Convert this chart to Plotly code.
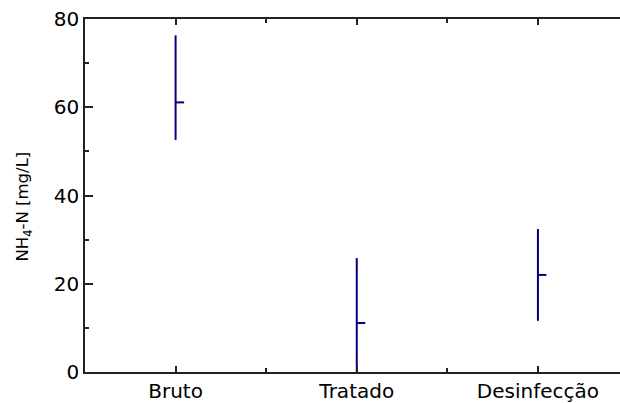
import plotly.graph_objects as go

categories = ["Bruto", "Tratado", "Desinfecção"]
high = [76.3, 25.8, 32.4]
low = [52.6, 0.0, 11.6]
close = [61.1, 11.1, 22.0]
y_ticks = [0, 20, 40, 60, 80]

pos = [1, 2, 3]
tick_off = 0.047
color = "#000080"

vx, vy, hx, hy = [], [], [], []
for p, h, l, c in zip(pos, high, low, close):
    vx += [p, p, None]
    vy += [l, h, None]
    hx += [p, p + tick_off, None]
    hy += [c, c, None]

fig = go.Figure()
fig.add_trace(go.Scatter(x=vx, y=vy, mode="lines", line=dict(color=color, width=2),
                         showlegend=False, hoverinfo="skip"))
fig.add_trace(go.Scatter(x=hx, y=hy, mode="lines", line=dict(color=color, width=2),
                         showlegend=False, hoverinfo="skip"))

axis_color = "#222222"
fig.update_layout(
    width=620, height=403,
    margin=dict(l=85, r=0, t=19, b=28),
    paper_bgcolor="white", plot_bgcolor="white",
    font=dict(family="DejaVu Sans, Arial, sans-serif", color="black", size=20),
    xaxis=dict(
        range=[0.5, 3.453], tickmode="array", tickvals=pos, ticktext=categories,
        ticks="inside", ticklen=6, tickwidth=1.5, tickcolor=axis_color,
        showline=True, linecolor=axis_color, linewidth=1.5, mirror="ticks",
        showgrid=False, zeroline=False,
        minor=dict(tickmode="array", tickvals=[1.5, 2.5], ticks="inside", ticklen=4,
                   tickwidth=1.5, tickcolor=axis_color, showgrid=False),
        tickfont=dict(size=20),
    ),
    yaxis=dict(
        range=[0, 80], tickmode="array", tickvals=y_ticks,
        ticks="inside", ticklen=8, tickwidth=1.5, tickcolor=axis_color,
        showline=True, linecolor=axis_color, linewidth=1.5, mirror=False,
        showgrid=False, zeroline=False,
        minor=dict(dtick=10, tick0=0, ticks="inside", ticklen=4, tickwidth=1.5,
                   tickcolor=axis_color, showgrid=False),
        tickfont=dict(size=20),
    ),
    annotations=[dict(
        text="NH<sub>4</sub>-N [mg/L]", xref="paper", yref="paper",
        x=-0.115, y=0.47, xanchor="center", yanchor="middle",
        textangle=-90, showarrow=False, font=dict(size=16.5),
    )],
)

fig.write_html("out.html")
